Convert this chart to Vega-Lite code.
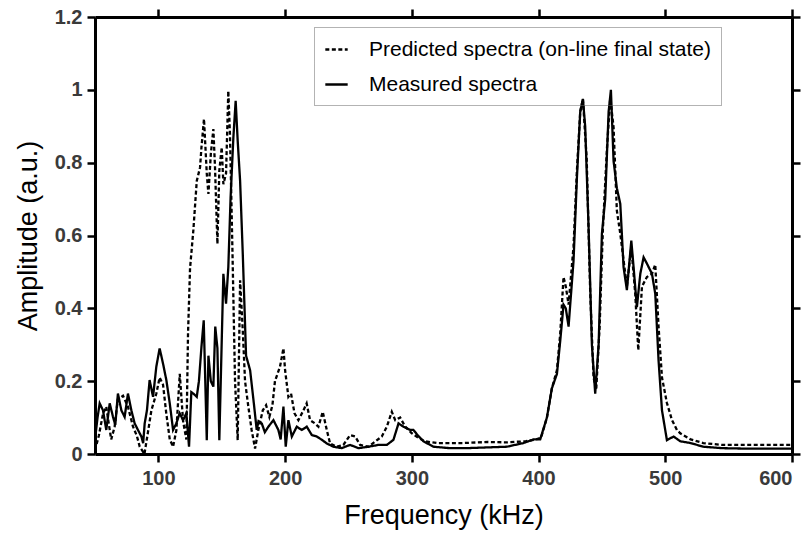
{
  "$schema": "https://vega.github.io/schema/vega-lite/v6.json",
  "width": 697,
  "height": 437,
  "autosize": {"type": "none"},
  "padding": {"left": 95, "top": 17, "right": 20, "bottom": 85},
  "background": "white",
  "config": {
    "view": {"stroke": null},
    "axis": {
      "domainColor": "black", "domainWidth": 3,
      "tickColor": "black", "tickWidth": 2.5, "tickSize": 8,
      "grid": false,
      "labelFont": "Liberation Sans", "labelFontWeight": "bold",
      "labelFontSize": 20, "labelColor": "#3a3a3a",
      "titleFont": "Liberation Sans", "titleFontWeight": "normal", "titleFontSize": 27, "titleColor": "black"
    }
  },
  "data": {"values": [
    {"f":50,"a":0.04,"s":"M"},{"f":52,"a":0.10,"s":"M"},{"f":53.7,"a":0.139,"s":"M"},{"f":56.3,"a":0.12,"s":"M"},{"f":58.9,"a":0.066,"s":"M"},{"f":61.6,"a":0.139,"s":"M"},{"f":64.2,"a":0.102,"s":"M"},{"f":66,"a":0.08,"s":"M"},{"f":68.1,"a":0.166,"s":"M"},{"f":70.8,"a":0.12,"s":"M"},{"f":73.4,"a":0.102,"s":"M"},{"f":76,"a":0.166,"s":"M"},{"f":78.7,"a":0.12,"s":"M"},{"f":81.3,"a":0.084,"s":"M"},{"f":83.9,"a":0.066,"s":"M"},{"f":86.6,"a":0.048,"s":"M"},{"f":88,"a":0.03,"s":"M"},{"f":89.2,"a":0.084,"s":"M"},{"f":91,"a":0.12,"s":"M"},{"f":93.1,"a":0.203,"s":"M"},{"f":95.8,"a":0.157,"s":"M"},{"f":98.4,"a":0.24,"s":"M"},{"f":101,"a":0.29,"s":"M"},{"f":103.7,"a":0.248,"s":"M"},{"f":106.3,"a":0.203,"s":"M"},{"f":109,"a":0.139,"s":"M"},{"f":111.6,"a":0.066,"s":"M"},{"f":114.2,"a":0.084,"s":"M"},{"f":116.8,"a":0.112,"s":"M"},{"f":119.5,"a":0.093,"s":"M"},{"f":122.1,"a":0.112,"s":"M"},{"f":124.2,"a":0.02,"s":"M"},{"f":126,"a":0.17,"s":"M"},{"f":127.6,"a":0.166,"s":"M"},{"f":130.3,"a":0.157,"s":"M"},{"f":132,"a":0.2,"s":"M"},{"f":134,"a":0.294,"s":"M"},{"f":135.8,"a":0.367,"s":"M"},{"f":138.2,"a":0.038,"s":"M"},{"f":139.5,"a":0.27,"s":"M"},{"f":141.4,"a":0.2,"s":"M"},{"f":143.4,"a":0.185,"s":"M"},{"f":144.9,"a":0.35,"s":"M"},{"f":146.6,"a":0.29,"s":"M"},{"f":148.1,"a":0.038,"s":"M"},{"f":150,"a":0.31,"s":"M"},{"f":151.3,"a":0.495,"s":"M"},{"f":153.4,"a":0.413,"s":"M"},{"f":155.2,"a":0.513,"s":"M"},{"f":157,"a":0.705,"s":"M"},{"f":159.2,"a":0.87,"s":"M"},{"f":161,"a":0.97,"s":"M"},{"f":162.6,"a":0.86,"s":"M"},{"f":164.5,"a":0.75,"s":"M"},{"f":166.6,"a":0.55,"s":"M"},{"f":168,"a":0.4,"s":"M"},{"f":169.2,"a":0.27,"s":"M"},{"f":172.4,"a":0.23,"s":"M"},{"f":175,"a":0.15,"s":"M"},{"f":177.6,"a":0.066,"s":"M"},{"f":179,"a":0.09,"s":"M"},{"f":181.6,"a":0.084,"s":"M"},{"f":184,"a":0.06,"s":"M"},{"f":186.8,"a":0.075,"s":"M"},{"f":190.8,"a":0.093,"s":"M"},{"f":194.7,"a":0.066,"s":"M"},{"f":196.5,"a":0.04,"s":"M"},{"f":198.7,"a":0.13,"s":"M"},{"f":200.5,"a":0.02,"s":"M"},{"f":202.6,"a":0.093,"s":"M"},{"f":205.3,"a":0.048,"s":"M"},{"f":209.2,"a":0.075,"s":"M"},{"f":213.2,"a":0.066,"s":"M"},{"f":217.1,"a":0.075,"s":"M"},{"f":221.1,"a":0.052,"s":"M"},{"f":225,"a":0.048,"s":"M"},{"f":229,"a":0.039,"s":"M"},{"f":232.9,"a":0.029,"s":"M"},{"f":238.2,"a":0.02,"s":"M"},{"f":244.7,"a":0.016,"s":"M"},{"f":251.3,"a":0.025,"s":"M"},{"f":257.9,"a":0.016,"s":"M"},{"f":265.8,"a":0.02,"s":"M"},{"f":273.7,"a":0.025,"s":"M"},{"f":280.3,"a":0.025,"s":"M"},{"f":285.5,"a":0.039,"s":"M"},{"f":289.5,"a":0.084,"s":"M"},{"f":293.4,"a":0.075,"s":"M"},{"f":298.7,"a":0.066,"s":"M"},{"f":301.3,"a":0.066,"s":"M"},{"f":305,"a":0.05,"s":"M"},{"f":309.2,"a":0.035,"s":"M"},{"f":317,"a":0.02,"s":"M"},{"f":330,"a":0.016,"s":"M"},{"f":343,"a":0.016,"s":"M"},{"f":359,"a":0.018,"s":"M"},{"f":375,"a":0.02,"s":"M"},{"f":388,"a":0.03,"s":"M"},{"f":396,"a":0.04,"s":"M"},{"f":401.3,"a":0.04,"s":"M"},{"f":406.6,"a":0.1,"s":"M"},{"f":410.5,"a":0.18,"s":"M"},{"f":412.5,"a":0.2,"s":"M"},{"f":414.5,"a":0.22,"s":"M"},{"f":417.1,"a":0.31,"s":"M"},{"f":419.7,"a":0.41,"s":"M"},{"f":421.5,"a":0.4,"s":"M"},{"f":423.7,"a":0.35,"s":"M"},{"f":427.6,"a":0.53,"s":"M"},{"f":430.3,"a":0.76,"s":"M"},{"f":432.9,"a":0.94,"s":"M"},{"f":435,"a":0.975,"s":"M"},{"f":436.8,"a":0.9,"s":"M"},{"f":439.5,"a":0.62,"s":"M"},{"f":442.1,"a":0.3,"s":"M"},{"f":444.7,"a":0.166,"s":"M"},{"f":447.4,"a":0.3,"s":"M"},{"f":450,"a":0.605,"s":"M"},{"f":452.6,"a":0.7,"s":"M"},{"f":455.3,"a":0.94,"s":"M"},{"f":457.1,"a":1.0,"s":"M"},{"f":459.2,"a":0.805,"s":"M"},{"f":461.8,"a":0.73,"s":"M"},{"f":464.5,"a":0.687,"s":"M"},{"f":467.1,"a":0.513,"s":"M"},{"f":469.7,"a":0.45,"s":"M"},{"f":473.2,"a":0.586,"s":"M"},{"f":475,"a":0.513,"s":"M"},{"f":477.6,"a":0.403,"s":"M"},{"f":480.3,"a":0.495,"s":"M"},{"f":482.9,"a":0.54,"s":"M"},{"f":485.5,"a":0.523,"s":"M"},{"f":489.5,"a":0.495,"s":"M"},{"f":492.1,"a":0.44,"s":"M"},{"f":494.7,"a":0.257,"s":"M"},{"f":497.4,"a":0.12,"s":"M"},{"f":501.3,"a":0.038,"s":"M"},{"f":506.6,"a":0.048,"s":"M"},{"f":511.8,"a":0.035,"s":"M"},{"f":520,"a":0.03,"s":"M"},{"f":530,"a":0.02,"s":"M"},{"f":545,"a":0.016,"s":"M"},{"f":560,"a":0.015,"s":"M"},{"f":580,"a":0.015,"s":"M"},{"f":600,"a":0.015,"s":"M"},

    {"f":50,"a":0.01,"s":"P"},{"f":53,"a":0.05,"s":"P"},{"f":56.3,"a":0.11,"s":"P"},{"f":58.9,"a":0.13,"s":"P"},{"f":61,"a":0.08,"s":"P"},{"f":62.8,"a":0.04,"s":"P"},{"f":65.5,"a":0.075,"s":"P"},{"f":68,"a":0.15,"s":"P"},{"f":72.1,"a":0.16,"s":"P"},{"f":76,"a":0.13,"s":"P"},{"f":80,"a":0.075,"s":"P"},{"f":83,"a":0.05,"s":"P"},{"f":85.3,"a":0.02,"s":"P"},{"f":89,"a":0.0,"s":"P"},{"f":91.8,"a":0.06,"s":"P"},{"f":94.5,"a":0.12,"s":"P"},{"f":98.4,"a":0.166,"s":"P"},{"f":101,"a":0.21,"s":"P"},{"f":103.7,"a":0.19,"s":"P"},{"f":106.3,"a":0.11,"s":"P"},{"f":109,"a":0.04,"s":"P"},{"f":111.6,"a":0.02,"s":"P"},{"f":114.2,"a":0.065,"s":"P"},{"f":116.9,"a":0.22,"s":"P"},{"f":119.5,"a":0.09,"s":"P"},{"f":122.1,"a":0.04,"s":"P"},{"f":123.4,"a":0.33,"s":"P"},{"f":125,"a":0.51,"s":"P"},{"f":127.6,"a":0.614,"s":"P"},{"f":130.3,"a":0.75,"s":"P"},{"f":132.9,"a":0.787,"s":"P"},{"f":134,"a":0.842,"s":"P"},{"f":136,"a":0.92,"s":"P"},{"f":138.2,"a":0.77,"s":"P"},{"f":139.5,"a":0.714,"s":"P"},{"f":141.4,"a":0.824,"s":"P"},{"f":143.4,"a":0.892,"s":"P"},{"f":144.7,"a":0.787,"s":"P"},{"f":146.6,"a":0.577,"s":"P"},{"f":148.1,"a":0.778,"s":"P"},{"f":150,"a":0.842,"s":"P"},{"f":151.3,"a":0.741,"s":"P"},{"f":153.4,"a":0.77,"s":"P"},{"f":155.2,"a":0.997,"s":"P"},{"f":156.5,"a":0.878,"s":"P"},{"f":158.4,"a":0.568,"s":"P"},{"f":160.5,"a":0.2,"s":"P"},{"f":162.6,"a":0.038,"s":"P"},{"f":164.5,"a":0.477,"s":"P"},{"f":166.6,"a":0.34,"s":"P"},{"f":168.4,"a":0.2,"s":"P"},{"f":171,"a":0.13,"s":"P"},{"f":173.6,"a":0.066,"s":"P"},{"f":176.3,"a":0.015,"s":"P"},{"f":178.9,"a":0.066,"s":"P"},{"f":182.4,"a":0.12,"s":"P"},{"f":185,"a":0.134,"s":"P"},{"f":187.6,"a":0.102,"s":"P"},{"f":190,"a":0.134,"s":"P"},{"f":192,"a":0.2,"s":"P"},{"f":196,"a":0.24,"s":"P"},{"f":198.7,"a":0.29,"s":"P"},{"f":200,"a":0.23,"s":"P"},{"f":202.6,"a":0.157,"s":"P"},{"f":204.7,"a":0.166,"s":"P"},{"f":207.4,"a":0.112,"s":"P"},{"f":210.5,"a":0.093,"s":"P"},{"f":214.5,"a":0.12,"s":"P"},{"f":217,"a":0.139,"s":"P"},{"f":219.7,"a":0.093,"s":"P"},{"f":223.6,"a":0.084,"s":"P"},{"f":226.3,"a":0.075,"s":"P"},{"f":229.7,"a":0.116,"s":"P"},{"f":232.9,"a":0.066,"s":"P"},{"f":235.5,"a":0.029,"s":"P"},{"f":240.8,"a":0.02,"s":"P"},{"f":246,"a":0.025,"s":"P"},{"f":251.3,"a":0.052,"s":"P"},{"f":255.3,"a":0.048,"s":"P"},{"f":259.2,"a":0.025,"s":"P"},{"f":265.8,"a":0.02,"s":"P"},{"f":271,"a":0.034,"s":"P"},{"f":276.3,"a":0.048,"s":"P"},{"f":280.3,"a":0.075,"s":"P"},{"f":284.2,"a":0.116,"s":"P"},{"f":286.9,"a":0.093,"s":"P"},{"f":290.8,"a":0.1,"s":"P"},{"f":294.8,"a":0.075,"s":"P"},{"f":300,"a":0.057,"s":"P"},{"f":305,"a":0.045,"s":"P"},{"f":310,"a":0.035,"s":"P"},{"f":320,"a":0.03,"s":"P"},{"f":340,"a":0.03,"s":"P"},{"f":360,"a":0.033,"s":"P"},{"f":375,"a":0.032,"s":"P"},{"f":390,"a":0.035,"s":"P"},{"f":398,"a":0.04,"s":"P"},{"f":402,"a":0.045,"s":"P"},{"f":406.6,"a":0.1,"s":"P"},{"f":410.5,"a":0.18,"s":"P"},{"f":414.5,"a":0.23,"s":"P"},{"f":417.1,"a":0.33,"s":"P"},{"f":419.7,"a":0.486,"s":"P"},{"f":421.5,"a":0.46,"s":"P"},{"f":423.7,"a":0.41,"s":"P"},{"f":427.6,"a":0.57,"s":"P"},{"f":430.3,"a":0.78,"s":"P"},{"f":432.9,"a":0.94,"s":"P"},{"f":435,"a":0.975,"s":"P"},{"f":438,"a":0.81,"s":"P"},{"f":440.8,"a":0.44,"s":"P"},{"f":443.4,"a":0.21,"s":"P"},{"f":445.5,"a":0.176,"s":"P"},{"f":448.2,"a":0.35,"s":"P"},{"f":450.8,"a":0.62,"s":"P"},{"f":454,"a":0.84,"s":"P"},{"f":456.6,"a":0.978,"s":"P"},{"f":459.2,"a":0.897,"s":"P"},{"f":461.8,"a":0.668,"s":"P"},{"f":464.5,"a":0.605,"s":"P"},{"f":467.1,"a":0.532,"s":"P"},{"f":469.7,"a":0.46,"s":"P"},{"f":473.2,"a":0.568,"s":"P"},{"f":476.3,"a":0.44,"s":"P"},{"f":478.7,"a":0.285,"s":"P"},{"f":481.6,"a":0.46,"s":"P"},{"f":485.5,"a":0.486,"s":"P"},{"f":489.5,"a":0.495,"s":"P"},{"f":492.1,"a":0.52,"s":"P"},{"f":494.7,"a":0.35,"s":"P"},{"f":497.4,"a":0.21,"s":"P"},{"f":501.3,"a":0.14,"s":"P"},{"f":505.3,"a":0.093,"s":"P"},{"f":509.2,"a":0.066,"s":"P"},{"f":511.8,"a":0.057,"s":"P"},{"f":520,"a":0.04,"s":"P"},{"f":530,"a":0.03,"s":"P"},{"f":545,"a":0.025,"s":"P"},{"f":560,"a":0.025,"s":"P"},{"f":580,"a":0.025,"s":"P"},{"f":600,"a":0.025,"s":"P"}
  ]},
  "layer": [
    {
      "mark": {"type": "line", "color": "black", "strokeWidth": 2.3, "clip": true},
      "encoding": {
        "x": {"field": "f", "type": "quantitative", "scale": {"domain": [50, 600], "nice": false},
              "axis": {"values": [100, 200, 300, 400, 500, 600], "title": "Frequency (kHz)", "labelPadding": 6, "titlePadding": 14}},
        "y": {"field": "a", "type": "quantitative", "scale": {"domain": [0, 1.2], "nice": false},
              "axis": {"values": [0, 0.2, 0.4, 0.6, 0.8, 1, 1.2], "format": ".2~f", "title": "Amplitude (a.u.)", "labelPadding": 5, "titlePadding": 12}},
        "strokeDash": {"field": "s", "type": "nominal",
          "scale": {"domain": ["P", "M"], "range": [[4, 2.5], [1, 0]]},
          "legend": {
            "orient": "none", "legendX": 219, "legendY": 10, "title": null,
            "labelExpr": "datum.label == 'P' ? 'Predicted spectra (on-line final state)' : 'Measured spectra'",
            "labelFont": "Liberation Sans", "labelFontSize": 21, "labelColor": "black", "labelOffset": 20, "labelLimit": 500,
            "symbolType": "stroke", "symbolSize": 500, "symbolStrokeWidth": 2.5, "symbolStrokeColor": "black",
            "rowPadding": 12, "padding": 10, "strokeColor": "#666666",
            "symbolDash": [4, 2],
            "encode": {"legend": {"update": {"strokeDash": {"value": [1, 1]}, "strokeWidth": {"value": 1}}}}
          }
        }
      }
    },
    {
      "mark": {"type": "line", "opacity": 0},
      "encoding": {
        "x": {"field": "f", "type": "quantitative", "axis": {"orient": "top", "values": [100, 200, 300, 400, 500, 600], "labels": false, "title": null}},
        "y": {"field": "a", "type": "quantitative", "axis": {"orient": "right", "values": [0, 0.2, 0.4, 0.6, 0.8, 1, 1.2], "labels": false, "title": null}},
        "detail": {"field": "s"}
      }
    }
  ],
  "resolve": {"axis": {"x": "independent", "y": "independent"}}
}
